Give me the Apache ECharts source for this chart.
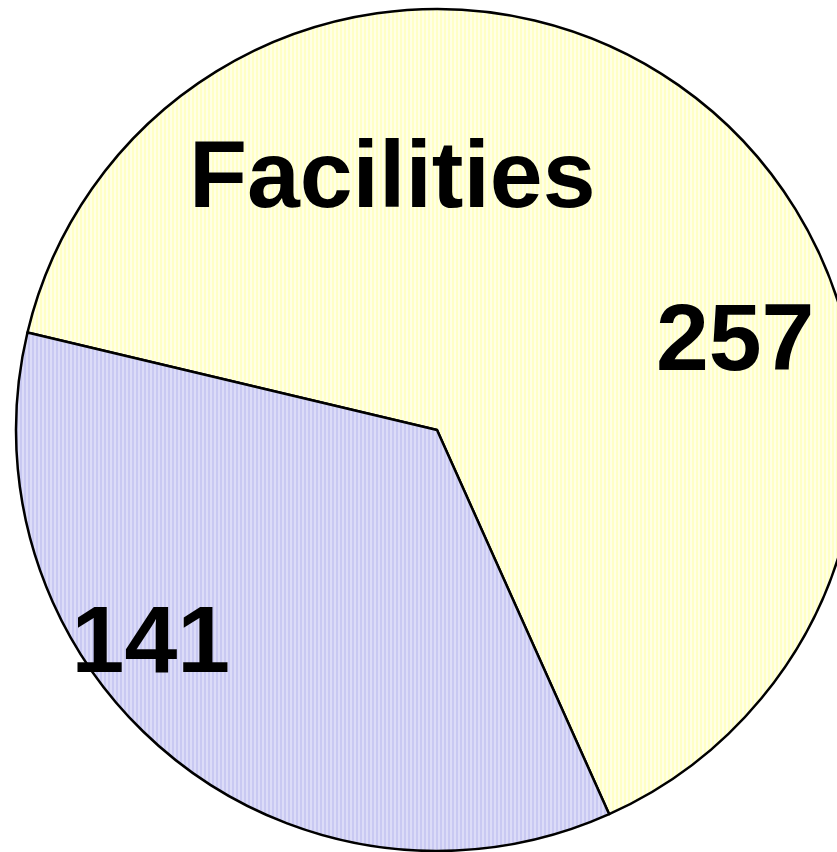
<!DOCTYPE html>
<html>
<head>
<meta charset="utf-8">
<script src="https://cdn.jsdelivr.net/npm/echarts@6/dist/echarts.min.js"></script>
<style>html,body{margin:0;padding:0;background:#fff;}#c{width:837px;height:852px;}</style>
</head>
<body>
<div id="c"></div>
<script>
const categories = ['Facilities', ''];
const values = [257, 141];
const nameLabels = ['Facilities', ''];

function stripes(a, b) {
  const cv = document.createElement('canvas');
  cv.width = 4; cv.height = 4;
  const ctx = cv.getContext('2d');
  ctx.fillStyle = a; ctx.fillRect(0, 0, 4, 4);
  ctx.fillStyle = b; ctx.fillRect(2, 0, 2, 4);
  return { image: cv, repeat: 'repeat' };
}
const fills = [stripes('#FFFFC6', '#FFFFE6'), stripes('#C9C9F2', '#DCDCF8')];
const valueOffsets = [[162, 78], [-150, 51]];
const nameOffsets = [[-181, -85], [0, 0]];

const chart = echarts.init(document.getElementById('c'));
const labelFont = { fontFamily: '"Liberation Sans", Arial, sans-serif', fontWeight: 'bold', fontSize: 95, color: '#000' };
chart.setOption({
  animation: false,
  series: [
    {
      type: 'pie',
      center: [437, 430],
      radius: 421,
      startAngle: 166.6,
      clockwise: true,
      silent: true,
      labelLine: { show: false },
      data: categories.map((c, i) => ({
        name: c,
        value: values[i],
        itemStyle: { color: fills[i], borderColor: '#000', borderWidth: 2.5 },
        label: Object.assign({ show: true, position: 'inside', formatter: '{c}', offset: valueOffsets[i] }, labelFont)
      }))
    },
    {
      type: 'pie',
      center: [437, 430],
      radius: 421,
      startAngle: 166.6,
      clockwise: true,
      silent: true,
      labelLine: { show: false },
      data: categories.map((c, i) => ({
        name: c,
        value: values[i],
        itemStyle: { color: 'rgba(0,0,0,0)', borderWidth: 0 },
        label: Object.assign({ show: nameLabels[i] !== '', position: 'inside', formatter: nameLabels[i], offset: nameOffsets[i] }, labelFont)
      }))
    }
  ]
});
</script>
</body>
</html>
